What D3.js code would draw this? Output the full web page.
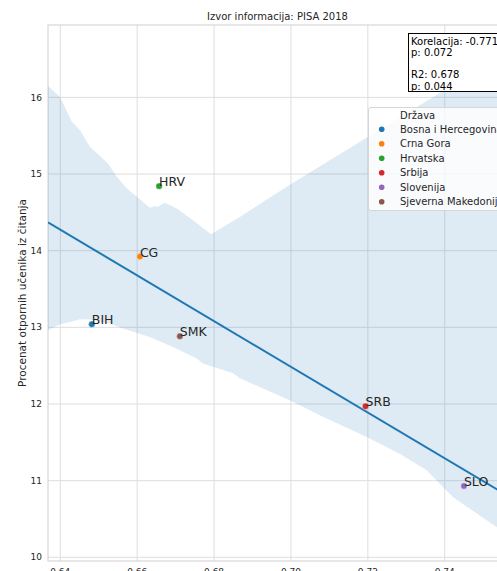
<!DOCTYPE html>
<html><head><meta charset="utf-8">
<script src="https://cdn.jsdelivr.net/npm/d3@7"></script>
<style>html,body{margin:0;padding:0;background:#fff;overflow:hidden}</style>
</head><body>
<script>
// ---- data ----
const countries = ["Bosna i Hercegovina","Crna Gora","Hrvatska","Srbija","Slovenija","Sjeverna Makedonija"];
const codes = ["BIH","CG","HRV","SRB","SLO","SMK"];
const xValues = [0.6482, 0.6607, 0.6657, 0.7194, 0.7450, 0.6711];
const yValues = [13.04, 13.924, 14.842, 11.970, 10.930, 12.884];
const colors = ["#1f77b4","#ff7f0e","#2ca02c","#d62728","#9467bd","#8c564b"];
// confidence band (bootstrap CI)
const bandUpperX = [0.6368,0.6399,0.6430,0.6451,0.6477,0.6524,0.6547,0.6573,0.6599,0.6633,0.6646,0.6654,0.6672,0.6703,0.6745,0.6792,0.6867,0.6997,0.7200,0.7387,0.7535,0.7565];
const bandUpperY = [16.148,16.008,15.681,15.573,15.355,15.138,14.963,14.812,14.702,14.559,14.581,14.572,14.624,14.551,14.398,14.215,14.441,14.859,15.482,16.056,16.513,16.60];
const bandLowerX = [0.6368,0.6399,0.6425,0.6451,0.6477,0.6529,0.6563,0.6633,0.6693,0.6755,0.6771,0.6849,0.6867,0.6997,0.7075,0.7197,0.7283,0.7353,0.7421,0.7535,0.7565];
const bandLowerY = [12.962,13.04,13.07,13.106,13.102,13.05,12.984,12.875,12.744,12.593,12.527,12.40,12.335,12.048,11.852,11.569,11.352,11.135,10.786,10.394,10.29];
const xTicks = [0.64,0.66,0.68,0.70,0.72,0.74];
const yTicks = [10,11,12,13,14,15,16];
const title = "Izvor informacija: PISA 2018";
const yLabel = "Procenat otpornih učenika iz čitanja";
const legendTitle = "Država";
const statsLines = ["Korelacija: -0.771","p: 0.072","","R2: 0.678","p: 0.044"];

// ---- layout ----
const W = 497, H = 571;
const L = 48, R = 507, T = 25, B = 561;
const font = "DejaVu Sans, sans-serif";
const x = d3.scaleLinear().domain([0.6368, 0.7562]).range([L, R]);
const y = d3.scaleLinear().domain([9.952, 16.944]).range([B, T]);

const svg = d3.select("body").append("svg").attr("width", W).attr("height", H)
  .style("font-family", font);

svg.append("defs").append("clipPath").attr("id","clip")
  .append("rect").attr("x",L).attr("y",T).attr("width",R-L).attr("height",B-T);

// grid
const grid = svg.append("g");
grid.selectAll(".gx").data(xTicks).join("line")
  .attr("x1", d=>x(d)).attr("x2", d=>x(d)).attr("y1", T).attr("y2", B)
  .attr("stroke", "#dedede").attr("stroke-width", 1);
grid.selectAll(".gy").data(yTicks).join("line")
  .attr("x1", L).attr("x2", R).attr("y1", d=>y(d)).attr("y2", d=>y(d))
  .attr("stroke", "#dedede").attr("stroke-width", 1);

// spines
svg.append("rect").attr("x",L).attr("y",T).attr("width",R-L).attr("height",B-T)
  .attr("fill","none").attr("stroke","#d0d0d0").attr("stroke-width",1);

const plot = svg.append("g").attr("clip-path","url(#clip)");

// band
const bandPts = bandUpperX.map((d,i)=>[x(d), y(bandUpperY[i])])
  .concat(bandLowerX.map((d,i)=>[x(d), y(bandLowerY[i])]).reverse());
plot.append("path").attr("d", d3.line()(bandPts) + "Z")
  .attr("fill", "#1f77b4").attr("fill-opacity", 0.15).attr("stroke","none");

// regression line (least squares)
const mx = d3.mean(xValues), my = d3.mean(yValues);
const slope = d3.sum(xValues.map((d,i)=>(d-mx)*(yValues[i]-my))) / d3.sum(xValues.map(d=>(d-mx)*(d-mx)));
const icpt = my - slope*mx;
const xd = x.domain();
plot.append("line")
  .attr("x1", x(xd[0])).attr("y1", y(icpt + slope*xd[0]))
  .attr("x2", x(xd[1])).attr("y2", y(icpt + slope*xd[1]))
  .attr("stroke", "#1f77b4").attr("stroke-width", 2);

// points
plot.selectAll(".pt").data(xValues).join("circle")
  .attr("cx", d=>x(d)).attr("cy", (d,i)=>y(yValues[i])).attr("r", 3.2)
  .attr("fill", (d,i)=>colors[i]).attr("stroke","#fff").attr("stroke-width",0.4);

// labels
svg.selectAll(".lbl").data(xValues).join("text")
  .attr("x", d=>x(d)).attr("y", (d,i)=>y(yValues[i]))
  .attr("font-size", 12.5).attr("fill","#262626")
  .text((d,i)=>codes[i]);

// tick labels
svg.selectAll(".ty").data(yTicks).join("text")
  .attr("x", 42).attr("y", d=>y(d)).attr("dy","0.35em")
  .attr("text-anchor","end").attr("font-size", 9).attr("fill","#262626")
  .text(d=>d3.format("d")(d));
svg.selectAll(".tx").data(xTicks).join("text")
  .attr("x", d=>x(d)).attr("y", 574.5)
  .attr("text-anchor","middle").attr("font-size", 9).attr("fill","#262626")
  .text(d=>d3.format(".2f")(d));

// title
svg.append("text").attr("x", (L+R)/2).attr("y", 20).attr("text-anchor","middle")
  .attr("font-size", 10).attr("fill","#262626").text(title);

// y label
svg.append("text").attr("transform", `translate(25.5,${(T+B)/2}) rotate(-90)`)
  .attr("text-anchor","middle").attr("font-size", 10.5).attr("fill","#262626").text(yLabel);

// legend
const lg = svg.append("g");
lg.append("rect").attr("x", 368.5).attr("y", 107.5).attr("width", 150).attr("height", 103)
  .attr("rx", 2.5).attr("fill","#fff").attr("fill-opacity",0.8).attr("stroke","#d6d6d6").attr("stroke-width",1);
lg.append("text").attr("x", 400).attr("y", 115).attr("dy","0.35em").attr("font-size",10)
  .attr("fill","#262626").text(legendTitle);
lg.selectAll(".lm").data(countries).join("circle")
  .attr("cx", 381.7).attr("cy", (d,i)=>129.3 + i*14.5).attr("r", 2.8)
  .attr("fill", (d,i)=>colors[i]);
lg.selectAll(".lt").data(countries).join("text")
  .attr("x", 400).attr("y", (d,i)=>129.3 + i*14.5).attr("dy","0.35em").attr("font-size",10)
  .attr("fill","#262626").text(d=>d);

// stats box
const sb = svg.append("g");
sb.append("rect").attr("x", 408.5).attr("y", 33.5).attr("width", 110).attr("height", 58)
  .attr("fill","#fff").attr("stroke","#000").attr("stroke-width",1);
sb.selectAll(".st").data(statsLines).join("text")
  .attr("x", 411).attr("y", (d,i)=>41 + i*11.3).attr("dy","0.35em").attr("font-size",10)
  .attr("fill","#000").text(d=>d);
</script>
</body></html>
